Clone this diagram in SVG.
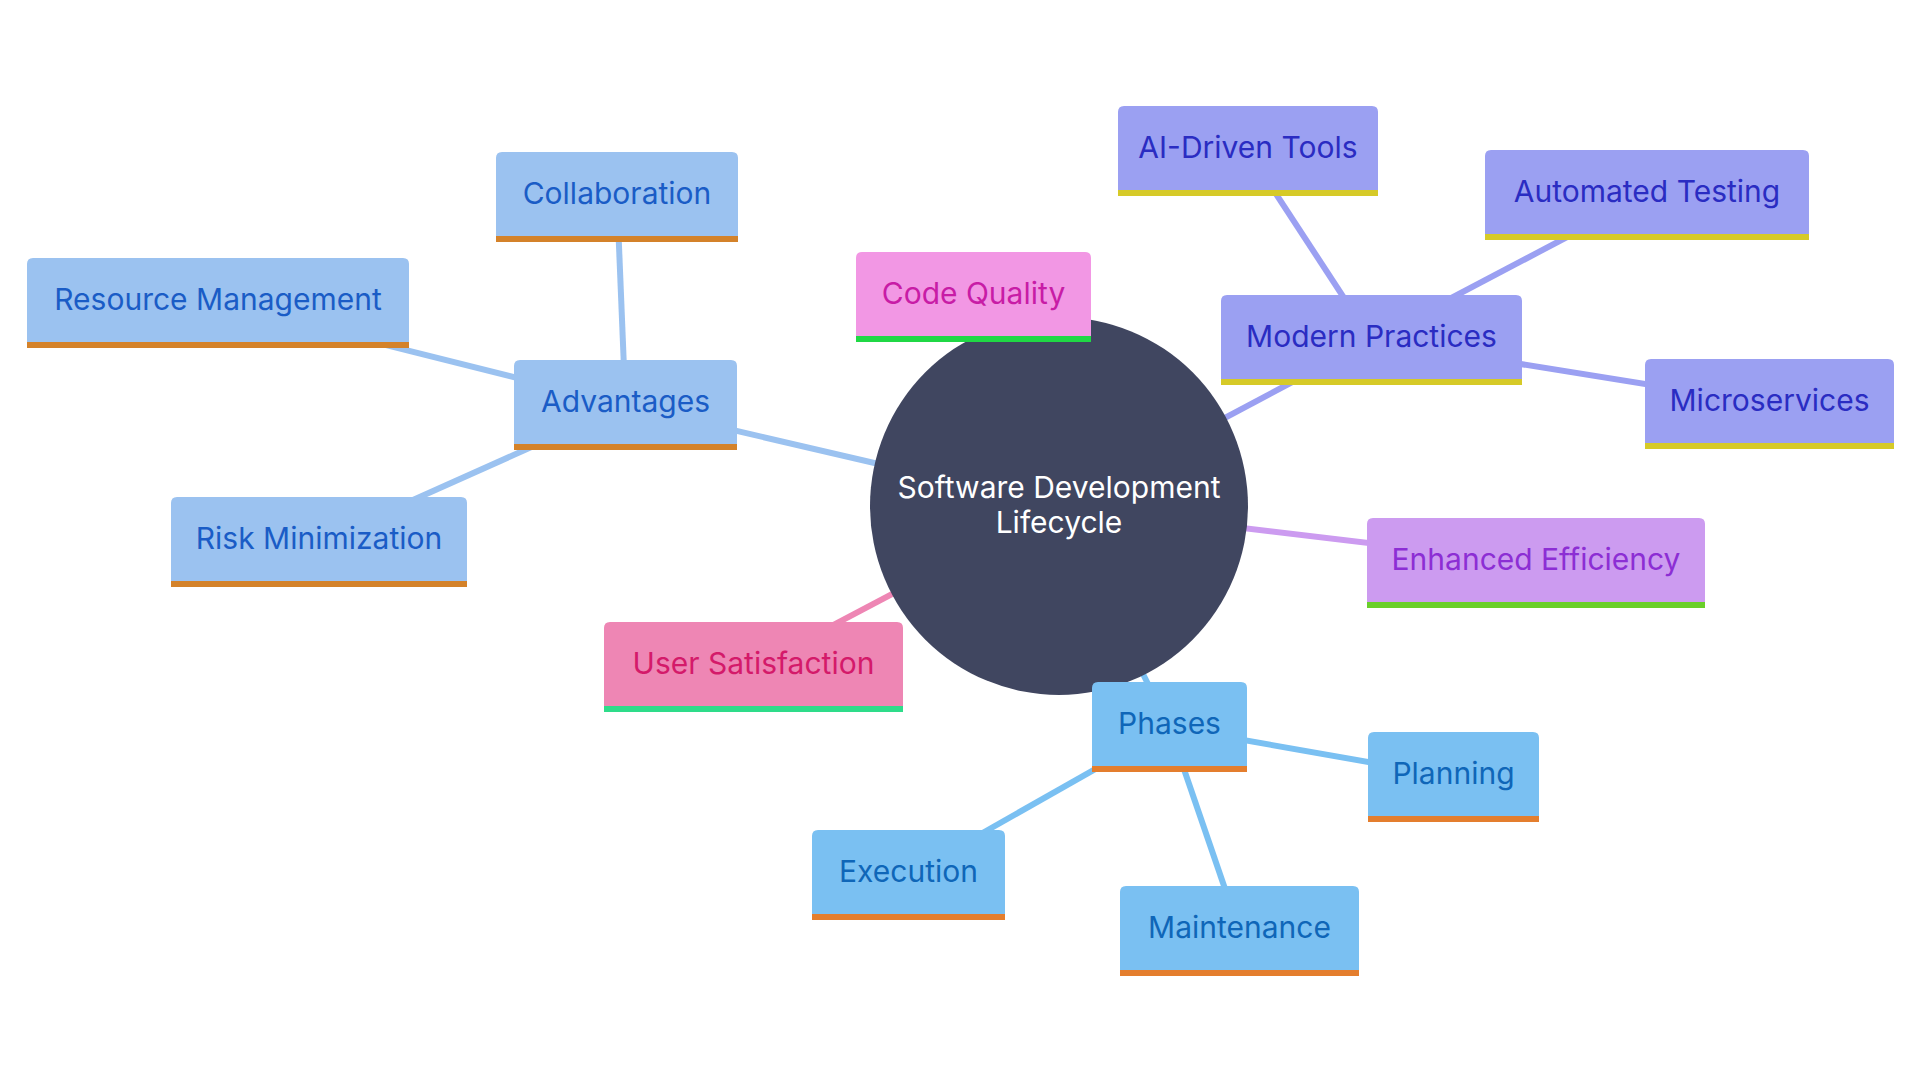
<svg xmlns="http://www.w3.org/2000/svg" width="1920" height="1080" viewBox="0 0 1920 1080">
<style>
  text { font-family: Inter, "Noto Sans", "DejaVu Sans", sans-serif; font-size: 30px; text-anchor: middle; dominant-baseline: central; }
  .e { stroke-width: 6; fill: none; stroke-linecap: butt; }
  .adv .f { fill: #9BC2F0; } .adv .b { fill: #D4822A; } .adv text { fill: #1A5CC6; }
  .mod .f { fill: #9BA0F2; } .mod .b { fill: #D6CA28; } .mod text { fill: #2A2CC2; }
  .cq .f { fill: #F297E4; } .cq .b { fill: #20D845; } .cq text { fill: #C81CA6; }
  .ee .f { fill: #CC9BF0; } .ee .b { fill: #6ACF2A; } .ee text { fill: #8C2ED4; }
  .us .f { fill: #EE86B4; } .us .b { fill: #2EDC8A; } .us text { fill: #D41A6A; }
  .ph .f { fill: #7AC0F2; } .ph .b { fill: #E47E2E; } .ph text { fill: #0F66B8; }
</style>
<rect width="1920" height="1080" fill="#FFFFFF"/>
<g id="connectors">
  <line class="e" x1="1059" y1="506" x2="625.5" y2="405" stroke="#9BC2F0"/>
  <line class="e" x1="625.5" y1="405" x2="617" y2="197" stroke="#9BC2F0"/>
  <line class="e" x1="625.5" y1="405" x2="218" y2="303" stroke="#9BC2F0"/>
  <line class="e" x1="625.5" y1="405" x2="319" y2="542" stroke="#9BC2F0"/>
  <line class="e" x1="1059" y1="506" x2="973.5" y2="297" stroke="#F297E4"/>
  <line class="e" x1="1059" y1="506" x2="1371.5" y2="340" stroke="#9BA0F2"/>
  <line class="e" x1="1371.5" y1="340" x2="1248" y2="151" stroke="#9BA0F2"/>
  <line class="e" x1="1371.5" y1="340" x2="1647" y2="195" stroke="#9BA0F2"/>
  <line class="e" x1="1371.5" y1="340" x2="1769.5" y2="404" stroke="#9BA0F2"/>
  <line class="e" x1="1059" y1="506" x2="1536" y2="563" stroke="#CC9BF0"/>
  <line class="e" x1="1059" y1="506" x2="753.5" y2="667" stroke="#EE86B4"/>
  <line class="e" x1="1059" y1="506" x2="1169.5" y2="727" stroke="#7AC0F2"/>
  <line class="e" x1="1169.5" y1="727" x2="1453.5" y2="777" stroke="#7AC0F2"/>
  <line class="e" x1="1169.5" y1="727" x2="908.5" y2="875" stroke="#7AC0F2"/>
  <line class="e" x1="1169.5" y1="727" x2="1239.5" y2="931" stroke="#7AC0F2"/>
</g>
<g id="root">
  <circle cx="1059" cy="506" r="189" fill="#404660"/>
  <text x="1059" y="487" fill="#FFFFFF">Software Development</text>
  <text x="1059" y="522" fill="#FFFFFF">Lifecycle</text>
</g>
<g id="advantages" class="adv" transform="translate(514,360)">
  <path class="f" d="M0,90 V6 Q0,0 6,0 H217 Q223,0 223,6 V90 Z"/><rect class="b" y="84" width="223" height="6"/>
  <text x="111.5" y="41">Advantages</text>
</g>
<g id="collaboration" class="adv" transform="translate(496,152)">
  <path class="f" d="M0,90 V6 Q0,0 6,0 H236 Q242,0 242,6 V90 Z"/><rect class="b" y="84" width="242" height="6"/>
  <text x="121" y="41">Collaboration</text>
</g>
<g id="resource-management" class="adv" transform="translate(27,258)">
  <path class="f" d="M0,90 V6 Q0,0 6,0 H376 Q382,0 382,6 V90 Z"/><rect class="b" y="84" width="382" height="6"/>
  <text x="191" y="41">Resource Management</text>
</g>
<g id="risk-minimization" class="adv" transform="translate(171,497)">
  <path class="f" d="M0,90 V6 Q0,0 6,0 H290 Q296,0 296,6 V90 Z"/><rect class="b" y="84" width="296" height="6"/>
  <text x="148" y="41">Risk Minimization</text>
</g>
<g id="code-quality" class="cq" transform="translate(856,252)">
  <path class="f" d="M0,90 V6 Q0,0 6,0 H229 Q235,0 235,6 V90 Z"/><rect class="b" y="84" width="235" height="6"/>
  <text x="117.5" y="41">Code Quality</text>
</g>
<g id="modern-practices" class="mod" transform="translate(1221,295)">
  <path class="f" d="M0,90 V6 Q0,0 6,0 H295 Q301,0 301,6 V90 Z"/><rect class="b" y="84" width="301" height="6"/>
  <text x="150.5" y="41">Modern Practices</text>
</g>
<g id="ai-driven-tools" class="mod" transform="translate(1118,106)">
  <path class="f" d="M0,90 V6 Q0,0 6,0 H254 Q260,0 260,6 V90 Z"/><rect class="b" y="84" width="260" height="6"/>
  <text x="130" y="41">AI-Driven Tools</text>
</g>
<g id="automated-testing" class="mod" transform="translate(1485,150)">
  <path class="f" d="M0,90 V6 Q0,0 6,0 H318 Q324,0 324,6 V90 Z"/><rect class="b" y="84" width="324" height="6"/>
  <text x="162" y="41">Automated Testing</text>
</g>
<g id="microservices" class="mod" transform="translate(1645,359)">
  <path class="f" d="M0,90 V6 Q0,0 6,0 H243 Q249,0 249,6 V90 Z"/><rect class="b" y="84" width="249" height="6"/>
  <text x="124.5" y="41">Microservices</text>
</g>
<g id="enhanced-efficiency" class="ee" transform="translate(1367,518)">
  <path class="f" d="M0,90 V6 Q0,0 6,0 H332 Q338,0 338,6 V90 Z"/><rect class="b" y="84" width="338" height="6"/>
  <text x="169" y="41">Enhanced Efficiency</text>
</g>
<g id="user-satisfaction" class="us" transform="translate(604,622)">
  <path class="f" d="M0,90 V6 Q0,0 6,0 H293 Q299,0 299,6 V90 Z"/><rect class="b" y="84" width="299" height="6"/>
  <text x="149.5" y="41">User Satisfaction</text>
</g>
<g id="phases" class="ph" transform="translate(1092,682)">
  <path class="f" d="M0,90 V6 Q0,0 6,0 H149 Q155,0 155,6 V90 Z"/><rect class="b" y="84" width="155" height="6"/>
  <text x="77.5" y="41">Phases</text>
</g>
<g id="planning" class="ph" transform="translate(1368,732)">
  <path class="f" d="M0,90 V6 Q0,0 6,0 H165 Q171,0 171,6 V90 Z"/><rect class="b" y="84" width="171" height="6"/>
  <text x="85.5" y="41">Planning</text>
</g>
<g id="execution" class="ph" transform="translate(812,830)">
  <path class="f" d="M0,90 V6 Q0,0 6,0 H187 Q193,0 193,6 V90 Z"/><rect class="b" y="84" width="193" height="6"/>
  <text x="96.5" y="41">Execution</text>
</g>
<g id="maintenance" class="ph" transform="translate(1120,886)">
  <path class="f" d="M0,90 V6 Q0,0 6,0 H233 Q239,0 239,6 V90 Z"/><rect class="b" y="84" width="239" height="6"/>
  <text x="119.5" y="41">Maintenance</text>
</g>
</svg>
